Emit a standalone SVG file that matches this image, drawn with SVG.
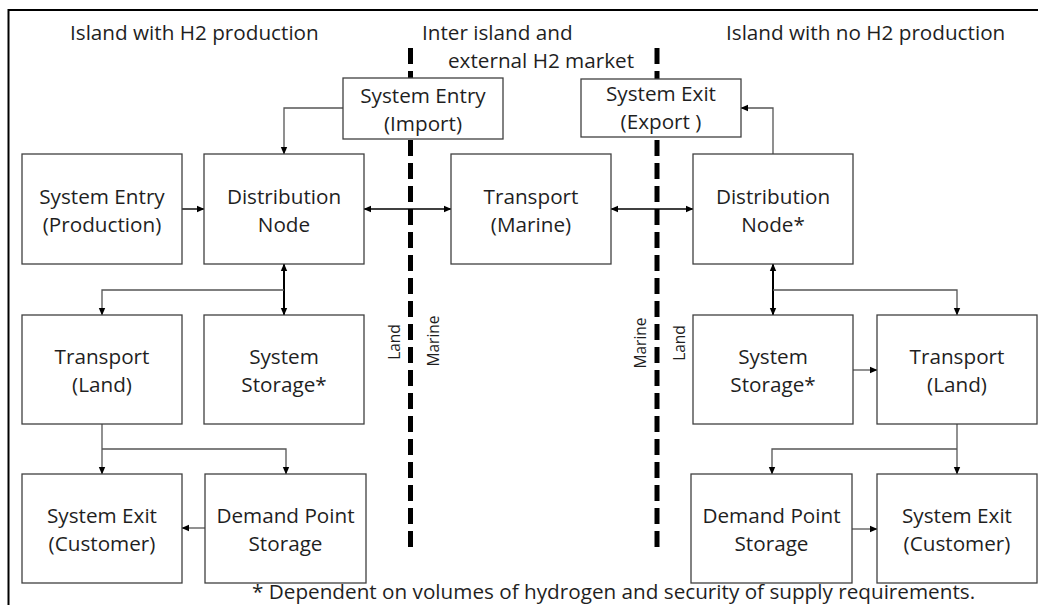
<svg xmlns="http://www.w3.org/2000/svg" width="1038" height="605" viewBox="0 0 1038 605">
<style>
  .box { fill: #ffffff; stroke: #404040; stroke-width: 1.3; }
  .t { font-family: "Open Sans", "Liberation Sans", sans-serif; font-size: 20.7px; fill: #1f1f1f; text-anchor: middle; }
  .h { font-family: "Open Sans", "Liberation Sans", sans-serif; font-size: 20.7px; fill: #1f1f1f; }
  .r { font-family: "Open Sans", "Liberation Sans", sans-serif; font-size: 15.5px; fill: #1f1f1f; text-anchor: middle; }
  .c { fill: none; stroke: #555555; stroke-width: 1.3; }
  .k { fill: none; stroke: #000000; stroke-width: 1.4; }
  .kb { fill: none; stroke: #000000; stroke-width: 2; }
  .dash { fill: none; stroke: #000000; stroke-width: 5; stroke-dasharray: 16 7; }
</style>
<defs>
  <marker id="ah" markerUnits="userSpaceOnUse" markerWidth="8" markerHeight="8" viewBox="0 0 8 8" refX="7" refY="4" orient="auto-start-reverse">
    <path d="M0,0.8 L7.5,4 L0,7.2 z" fill="#000000"/>
  </marker>
</defs>
<rect width="1038" height="605" fill="#ffffff"/>
<path d="M8.5,606 V10 H1040" fill="none" stroke="#000000" stroke-width="2"/>

<g id="headings">
  <text class="h" x="70" y="40">Island with H2 production</text>
  <text class="h" x="422" y="40">Inter island and</text>
  <text class="h" x="448" y="68">external H2 market</text>
  <text class="h" x="726" y="40">Island with no H2 production</text>
</g>

<g id="boundaries">
  <line class="dash" x1="410.5" y1="48" x2="410.5" y2="549"/>
  <line class="dash" x1="657" y1="48" x2="657" y2="549"/>
  <text class="r" transform="translate(400,342) rotate(-90)">Land</text>
  <text class="r" transform="translate(439,341) rotate(-90)">Marine</text>
  <text class="r" transform="translate(646,343) rotate(-90)">Marine</text>
  <text class="r" transform="translate(685,343) rotate(-90)">Land</text>
</g>

<g id="connectors">
  <path class="c" d="M343,108 H284 V154" marker-end="url(#ah)"/>
  <path class="k" d="M182,209 H204" marker-end="url(#ah)"/>
  <path class="k" d="M364,209 H451" marker-start="url(#ah)" marker-end="url(#ah)"/>
  <path class="k" d="M611,209 H693" marker-start="url(#ah)" marker-end="url(#ah)"/>
  <path class="c" d="M773,154 V108 H741" marker-end="url(#ah)"/>
  <path class="kb" d="M284,264 V315" marker-start="url(#ah)" marker-end="url(#ah)"/>
  <path class="c" d="M284,290 H102 V315" marker-end="url(#ah)"/>
  <path class="c" d="M102,424 V474" marker-end="url(#ah)"/>
  <path class="c" d="M102,449 H286 V474" marker-end="url(#ah)"/>
  <path class="c" d="M205,528 H182" marker-end="url(#ah)"/>
  <path class="kb" d="M773,264 V315" marker-start="url(#ah)" marker-end="url(#ah)"/>
  <path class="c" d="M773,290 H957 V315" marker-end="url(#ah)"/>
  <path class="c" d="M853,370 H877" marker-end="url(#ah)"/>
  <path class="c" d="M957,424 V474" marker-end="url(#ah)"/>
  <path class="c" d="M957,449 H772 V474" marker-end="url(#ah)"/>
  <path class="c" d="M852,529 H877" marker-end="url(#ah)"/>
</g>

<g id="import">
  <rect class="box" x="343" y="78" width="160" height="61"/>
  <text class="t" x="423" y="103">System Entry</text>
  <text class="t" x="423" y="131">(Import)</text>
</g>
<g id="export">
  <rect class="box" x="581" y="79" width="160" height="58"/>
  <text class="t" x="661" y="101">System Exit</text>
  <text class="t" x="661" y="129">(Export )</text>
</g>
<g id="production">
  <rect class="box" x="22" y="154" width="160" height="110"/>
  <text class="t" x="102" y="204">System Entry</text>
  <text class="t" x="102" y="232">(Production)</text>
</g>
<g id="distribution">
  <rect class="box" x="204" y="154" width="160" height="110"/>
  <text class="t" x="284" y="204">Distribution</text>
  <text class="t" x="284" y="232">Node</text>
</g>
<g id="marine">
  <rect class="box" x="451" y="154" width="160" height="110"/>
  <text class="t" x="531" y="204">Transport</text>
  <text class="t" x="531" y="232">(Marine)</text>
</g>
<g id="distribution-star">
  <rect class="box" x="693" y="154" width="160" height="110"/>
  <text class="t" x="773" y="204">Distribution</text>
  <text class="t" x="773" y="232">Node*</text>
</g>
<g id="transport-land-left">
  <rect class="box" x="22" y="315" width="160" height="109"/>
  <text class="t" x="102" y="364">Transport</text>
  <text class="t" x="102" y="392">(Land)</text>
</g>
<g id="storage-left">
  <rect class="box" x="204" y="315" width="160" height="109"/>
  <text class="t" x="284" y="364">System</text>
  <text class="t" x="284" y="392">Storage*</text>
</g>
<g id="exit-left">
  <rect class="box" x="22" y="474" width="160" height="109"/>
  <text class="t" x="102" y="523">System Exit</text>
  <text class="t" x="102" y="551">(Customer)</text>
</g>
<g id="demand-left">
  <rect class="box" x="205" y="474" width="161" height="109"/>
  <text class="t" x="285.5" y="523">Demand Point</text>
  <text class="t" x="285.5" y="551">Storage</text>
</g>
<g id="storage-right">
  <rect class="box" x="693" y="315" width="160" height="109"/>
  <text class="t" x="773" y="364">System</text>
  <text class="t" x="773" y="392">Storage*</text>
</g>
<g id="transport-land-right">
  <rect class="box" x="877" y="315" width="160" height="109"/>
  <text class="t" x="957" y="364">Transport</text>
  <text class="t" x="957" y="392">(Land)</text>
</g>
<g id="demand-right">
  <rect class="box" x="691" y="474" width="161" height="109"/>
  <text class="t" x="771.5" y="523">Demand Point</text>
  <text class="t" x="771.5" y="551">Storage</text>
</g>
<g id="exit-right">
  <rect class="box" x="877" y="474" width="160" height="109"/>
  <text class="t" x="957" y="523">System Exit</text>
  <text class="t" x="957" y="551">(Customer)</text>
</g>

<text class="h" x="252" y="599">* Dependent on volumes of hydrogen and security of supply requirements.</text>
</svg>
